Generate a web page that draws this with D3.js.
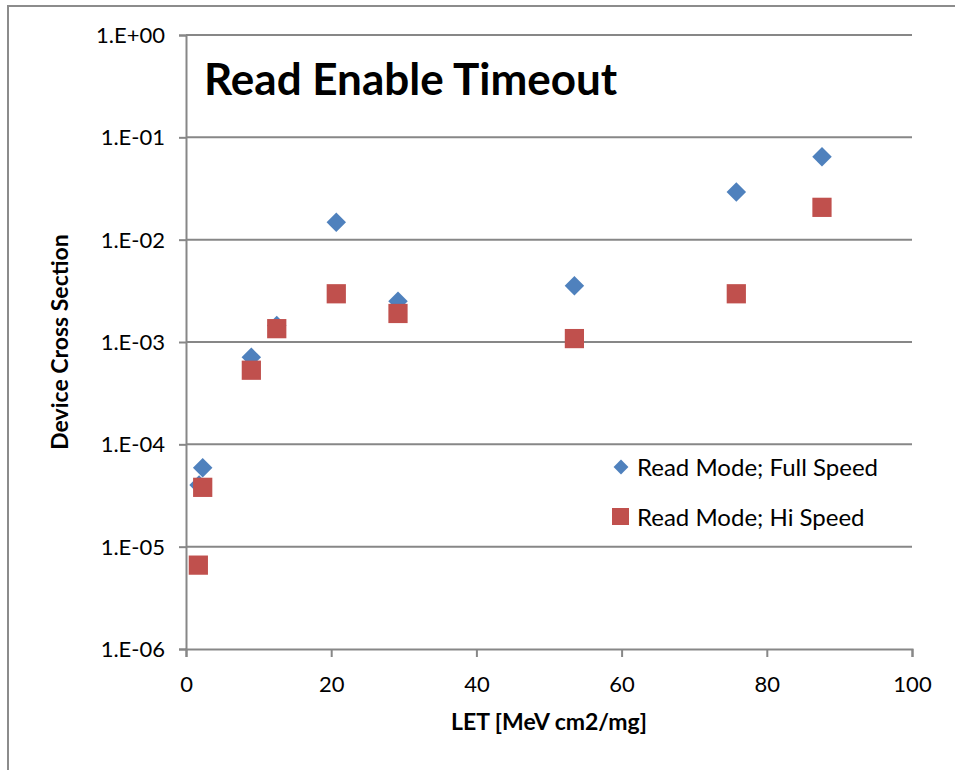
<!DOCTYPE html>
<html>
<head>
<meta charset="utf-8">
<script src="https://cdn.jsdelivr.net/npm/d3@7"></script>
<style>
  html, body { margin: 0; padding: 0; background: #fff; }
  svg { display: block; }
</style>
</head>
<body>
<svg id="chart" width="955" height="770"></svg>
<script>
// LET values and device cross sections for each read mode
const letFull = [1.8, 2.3, 9.0, 12.5, 20.7, 29.2, 53.5, 75.8, 87.6];
const sigmaFull = [4.0e-5, 5.9e-5, 7.1e-4, 1.45e-3, 1.48e-2, 2.5e-3, 3.55e-3, 2.92e-2, 6.46e-2];
const letHi = [1.7, 2.3, 9.0, 12.5, 20.7, 29.2, 53.5, 75.8, 87.6];
const sigmaHi = [6.6e-6, 3.8e-5, 5.3e-4, 1.35e-3, 2.96e-3, 1.9e-3, 1.08e-3, 2.96e-3, 2.07e-2];
const xTicks = [0, 20, 40, 60, 80, 100];
const yTicks = [1e-6, 1e-5, 1e-4, 1e-3, 1e-2, 1e-1, 1];
const yTickLabels = ["1.E-06", "1.E-05", "1.E-04", "1.E-03", "1.E-02", "1.E-01", "1.E+00"];
const seriesNames = ["Read Mode; Full Speed", "Read Mode; Hi Speed"];
const chartTitle = "Read Enable Timeout";
const xTitle = "LET [MeV cm2/mg]";
const yTitle = "Device Cross Section";

const blue = "#4f81bd", red = "#c0504d", grid = "#878787";
const font = "Lato, 'Open Sans', sans-serif";

const svg = d3.select("#chart");
const x = d3.scaleLinear().domain([0, 100]).range([186, 912]);
const y = d3.scaleLog().domain([1e-6, 1]).range([649, 35]);

// outer chart frame
svg.append("rect").attr("x", 8).attr("y", 6).attr("width", 960).attr("height", 780)
  .attr("fill", "none").attr("stroke", "#8c8c8c").attr("stroke-width", 2);

// horizontal gridlines
svg.append("g").selectAll("line").data(yTicks.slice(1)).join("line")
  .attr("x1", x(0)).attr("x2", x(100))
  .attr("y1", d => y(d)).attr("y2", d => y(d))
  .attr("stroke", grid).attr("stroke-width", 2);

// y axis
const yAxis = d3.axisLeft(y).tickValues(yTicks)
  .tickFormat((d, i) => yTickLabels[i]).tickSize(7).tickPadding(14);
const gy = svg.append("g").attr("transform", `translate(${x(0)},0)`).call(yAxis);
gy.select(".domain").attr("stroke", grid).attr("stroke-width", 2);
gy.selectAll(".tick line").attr("stroke", grid).attr("stroke-width", 2);
gy.selectAll(".tick text").attr("font-family", font).attr("font-size", 22)
  .attr("fill", "#000").attr("dy", "0.34em");

// x axis
const xAxis = d3.axisBottom(x).tickValues(xTicks).tickSize(8).tickPadding(19);
const gx = svg.append("g").attr("transform", `translate(0,${y(1e-6)})`).call(xAxis);
gx.select(".domain").attr("stroke", grid).attr("stroke-width", 2);
gx.selectAll(".tick line").attr("stroke", grid).attr("stroke-width", 2);
gx.selectAll(".tick text").attr("font-family", font).attr("font-size", 22).attr("fill", "#000");

// axis titles
svg.append("text").attr("x", 549).attr("y", 730).attr("text-anchor", "middle")
  .attr("font-family", font).attr("font-weight", "bold").attr("font-size", 23).text(xTitle);
svg.append("text").attr("transform", "translate(68,342) rotate(-90)").attr("text-anchor", "middle")
  .attr("font-family", font).attr("font-weight", "bold").attr("font-size", 23).text(yTitle);

// chart title
svg.append("text").attr("x", 204).attr("y", 95)
  .attr("font-family", font).attr("font-weight", "bold").attr("font-size", 44).text(chartTitle);

const diamond = d3.symbol().type(d3.symbolSquare).size(190)();
const square = d3.symbol().type(d3.symbolSquare).size(370)();

// Full Speed series: diamonds
svg.append("g").selectAll("path").data(letFull.map((v, i) => [v, sigmaFull[i]])).join("path")
  .attr("d", diamond)
  .attr("transform", d => `translate(${x(d[0])},${y(d[1])}) rotate(45)`)
  .attr("fill", blue);

// Hi Speed series: squares
svg.append("g").selectAll("path").data(letHi.map((v, i) => [v, sigmaHi[i]])).join("path")
  .attr("d", square)
  .attr("transform", d => `translate(${x(d[0])},${y(d[1])})`)
  .attr("fill", red);

// legend
const legend = svg.append("g");
legend.append("path").attr("d", d3.symbol().type(d3.symbolSquare).size(110)())
  .attr("transform", "translate(621,467) rotate(45)").attr("fill", blue);
legend.append("rect").attr("x", 612).attr("y", 508).attr("width", 17).attr("height", 17).attr("fill", red);
legend.selectAll("text").data(seriesNames).join("text")
  .attr("x", 637).attr("y", (d, i) => 476 + i * 50)
  .attr("font-family", font).attr("font-size", 24).attr("fill", "#000").text(d => d);
</script>
</body>
</html>
